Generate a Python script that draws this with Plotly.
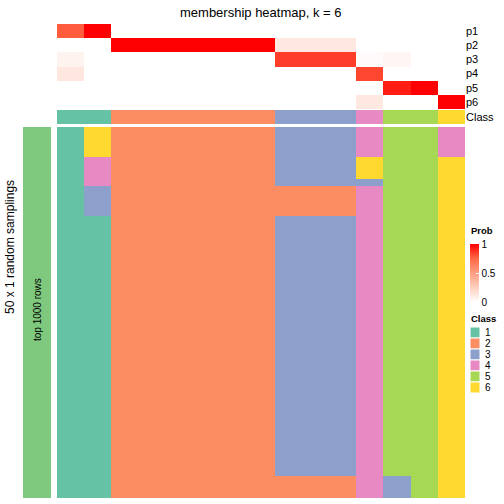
import plotly.graph_objects as go

# ---------------- data ----------------
prob_labels = ["p1", "p2", "p3", "p4", "p5", "p6"]
p1 = [0.78, 1.00, 0, 0, 0, 0, 0, 0, 0, 0, 0, 0, 0, 0, 0]
p2 = [0, 0, 1, 1, 1, 1, 1, 1, 0.12, 0.12, 0.12, 0, 0, 0, 0]
p3 = [0.06, 0, 0, 0, 0, 0, 0, 0, 0.85, 0.85, 0.85, 0.02, 0.05, 0, 0]
p4 = [0.13, 0, 0, 0, 0, 0, 0, 0, 0, 0, 0, 0.83, 0, 0, 0]
p5 = [0, 0, 0, 0, 0, 0, 0, 0, 0, 0, 0, 0, 0.93, 1.00, 0]
p6 = [0, 0, 0, 0, 0, 0, 0, 0, 0, 0, 0, 0.12, 0, 0, 1.00]

class_row = [1, 1, 2, 2, 2, 2, 2, 2, 3, 3, 3, 4, 5, 5, 6]

# per-column class assignment over 50 samplings (top to bottom)
col01 = [1] * 50
col02 = [6] * 4 + [4] * 4 + [3] * 4 + [1] * 38
col03 = [2] * 50
col04 = [2] * 50
col05 = [2] * 50
col06 = [2] * 50
col07 = [2] * 50
col08 = [2] * 50
col09 = [3] * 8 + [2] * 4 + [3] * 35 + [2] * 3
col10 = [3] * 8 + [2] * 4 + [3] * 35 + [2] * 3
col11 = [3] * 8 + [2] * 4 + [3] * 35 + [2] * 3
col12 = [4] * 4 + [6] * 3 + [3] * 1 + [4] * 42
col13 = [5] * 47 + [3] * 3
col14 = [5] * 50
col15 = [4] * 4 + [6] * 46

class_levels = ["1", "2", "3", "4", "5", "6"]
class_colors = ["#66C2A5", "#FC8D62", "#8DA0CB", "#E78AC3", "#A6D854", "#FFD92F"]

# ---------------- figure ----------------
W = H = 504
cols = [col01, col02, col03, col04, col05, col06, col07, col08,
        col09, col10, col11, col12, col13, col14, col15]
n_rows = len(col01)
main_z = [[c[r] for c in cols] for r in range(n_rows)]
prob_z = [p1, p2, p3, p4, p5, p6]
xs = list(range(len(class_row)))

def py(px):
    return 1 - px / H

def pxx(px):
    return px / W

disc_scale = []
n = len(class_colors)
for i, c in enumerate(class_colors):
    disc_scale.append([i / n, c])
    disc_scale.append([(i + 1) / n, c])

prob_scale = [[0, "#FFFFFF"], [0.25, "#FFCFBF"], [0.5, "#FF9E82"],
              [0.75, "#FF6846"], [1, "#FF0000"]]

FONT = "Liberation Sans, Arial, sans-serif"

fig = go.Figure()
fig.add_trace(go.Heatmap(
    z=prob_z, x=xs, y=prob_labels, xaxis="x", yaxis="y",
    colorscale=prob_scale, zmin=0, zmax=1, hoverinfo="skip",
    colorbar=dict(
        x=pxx(470), xanchor="left", xpad=0, ypad=0,
        y=py(273), yanchor="middle", lenmode="pixels", len=58,
        thickness=9, outlinewidth=0,
        tickvals=[0, 0.5, 1], ticktext=["0", "0.5", "1"],
        ticks="inside", ticklen=3, tickcolor="white",
        tickfont=dict(family=FONT, size=10, color="black"),
    ),
))
fig.add_trace(go.Heatmap(
    z=[class_row], x=xs, y=["Class"], xaxis="x", yaxis="y2",
    colorscale=disc_scale, zmin=0.5, zmax=6.5, showscale=False, hoverinfo="skip",
))
fig.add_trace(go.Heatmap(
    z=main_z, x=xs, y=list(range(n_rows)), xaxis="x", yaxis="y3",
    colorscale=disc_scale, zmin=0.5, zmax=6.5, showscale=False, hoverinfo="skip",
))

axis_common = dict(showgrid=False, zeroline=False, showline=False)
fig.update_layout(
    width=W, height=H,
    margin=dict(l=0, r=0, t=0, b=0),
    paper_bgcolor="white", plot_bgcolor="white",
    showlegend=False,
    xaxis=dict(domain=[pxx(57), pxx(465)], range=[-0.5, len(xs) - 0.5],
               showticklabels=False, ticks="", **axis_common),
    yaxis=dict(domain=[py(109), py(24)], autorange="reversed", side="right",
               ticks="", tickfont=dict(family=FONT, size=11, color="black"),
               anchor="x", **axis_common),
    yaxis2=dict(domain=[py(124), py(110)], side="right", ticks="",
                tickfont=dict(family=FONT, size=11, color="black"),
                anchor="x", **axis_common),
    yaxis3=dict(domain=[py(498), py(127)], autorange="reversed",
                showticklabels=False, ticks="", anchor="x", **axis_common),
)

def note(text, x, y, size, xanchor="center", angle=0):
    fig.add_annotation(text=text, xref="paper", yref="paper",
                       x=pxx(x), y=py(y), xanchor=xanchor, yanchor="middle",
                       textangle=angle, showarrow=False,
                       font=dict(family=FONT, size=size, color="black"))

# row-title bar on the left
fig.add_shape(type="rect", xref="paper", yref="paper",
              x0=pxx(23), x1=pxx(51), y0=py(498), y1=py(127),
              fillcolor="#7FC97F", line=dict(width=0), layer="below")
note("top 1000 rows", 37, 310, 10, angle=-90)
note("50 x 1 random samplings", 10, 247, 12, angle=-90)
note("membership heatmap, k = 6", 261, 12, 13)

# legends
note("<b>Prob</b>", 469, 231, 9.5, xanchor="left")
note("<b>Class</b>", 469, 318, 9.5, xanchor="left")
sq_w = 10
sq_h = 11
top0 = 327
for i, (lab, col) in enumerate(zip(class_levels, class_colors)):
    y0 = top0 + i * sq_h
    fig.add_shape(type="rect", xref="paper", yref="paper",
                  x0=pxx(470), x1=pxx(470 + sq_w), y0=py(y0 + sq_h), y1=py(y0),
                  fillcolor=col, line=dict(width=1, color="white"))
    note(lab, 483, y0 + sq_h / 2, 10, xanchor="left")

fig.write_html("out.html", config={"displayModeBar": False},
               post_script="document.body.style.margin='0';")
